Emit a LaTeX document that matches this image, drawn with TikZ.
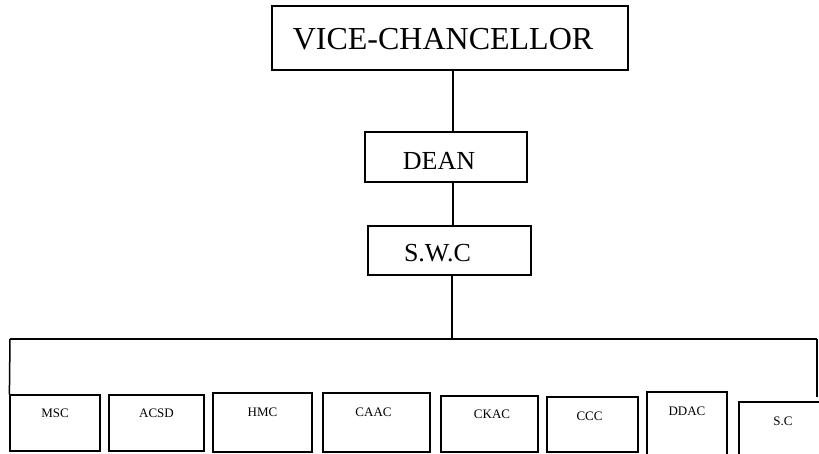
\documentclass[tikz,border=0pt]{standalone}
\usepackage{fontspec}
\setmainfont{Liberation Serif}
\begin{document}
\begin{tikzpicture}[x=1pt,y=-1pt,
  box/.style={draw=black,line width=1.2pt,inner sep=0pt,minimum height=0pt,anchor=center},
  link/.style={draw=black,line width=1.5pt},
  big/.style={font=\fontsize{32}{36}\selectfont},
  mid/.style={font=\fontsize{26}{30}\selectfont},
  small/.style={font=\fontsize{13}{15}\selectfont}]
\useasboundingbox (0,0) rectangle (819,454);
\fill[white] (0,0) rectangle (819,454);
% top boxes
\node[box,big,minimum width=356pt,text height=44pt,text depth=20pt] (vc) at (450,38) {VICE-CHANCELLOR\hspace*{14pt}};
\node[box,mid,minimum width=162pt,text height=37.5pt,text depth=12.5pt] (dean) at (446,157) {DEAN\hspace*{14pt}};
\node[box,mid,minimum width=163pt,text height=36pt,text depth=13pt] (swc) at (449.5,250.5) {S.W.C\hspace*{24pt}};
% bottom boxes
\node[box,small,minimum width=90pt,text height=22pt,text depth=34pt] (msc) at (55,423) {MSC};
\node[box,small,minimum width=95pt,text height=22pt,text depth=34pt] (acsd) at (156.5,423) {ACSD};
\node[box,small,minimum width=99pt,text height=23pt,text depth=36pt] (hmc) at (262.5,422.5) {HMC};
\node[box,small,minimum width=107pt,text height=23pt,text depth=36pt] (caac) at (376.5,422.5) {CAAC\hspace*{6pt}};
\node[box,small,minimum width=97pt,text height=22pt,text depth=34pt] (ckac) at (489.5,424) {\hspace*{5pt}CKAC};
\node[box,small,minimum width=91pt,text height=23pt,text depth=32pt] (ccc) at (592.5,424.5) {CCC\hspace*{6pt}};
\node[box,small,minimum width=80pt,text height=23pt,text depth=47pt] (ddac) at (687,427) {DDAC};
\node[box,small,minimum width=93pt,text height=23pt,text depth=37pt] (sc) at (785.5,432) {S.C\hspace*{5pt}};
% connectors
\coordinate (spine) at (453,0);
\coordinate (drop) at (452,0);
\coordinate (busL) at (10,339);
\coordinate (busR) at (817,339);
\coordinate (busM) at (452,339);
\coordinate (rEnd) at (817,397);
\draw[link] (vc.south -| spine) -- (dean.north -| spine);
\draw[link] (dean.south -| spine) -- (swc.north -| spine);
\draw[link] (swc.south -| drop) -- (busM);
\draw[link] (busL) -- (busR);
\draw[link] (busL) -- (msc.north west);
\draw[link] (busR) -- (rEnd);
\end{tikzpicture}
\end{document}
